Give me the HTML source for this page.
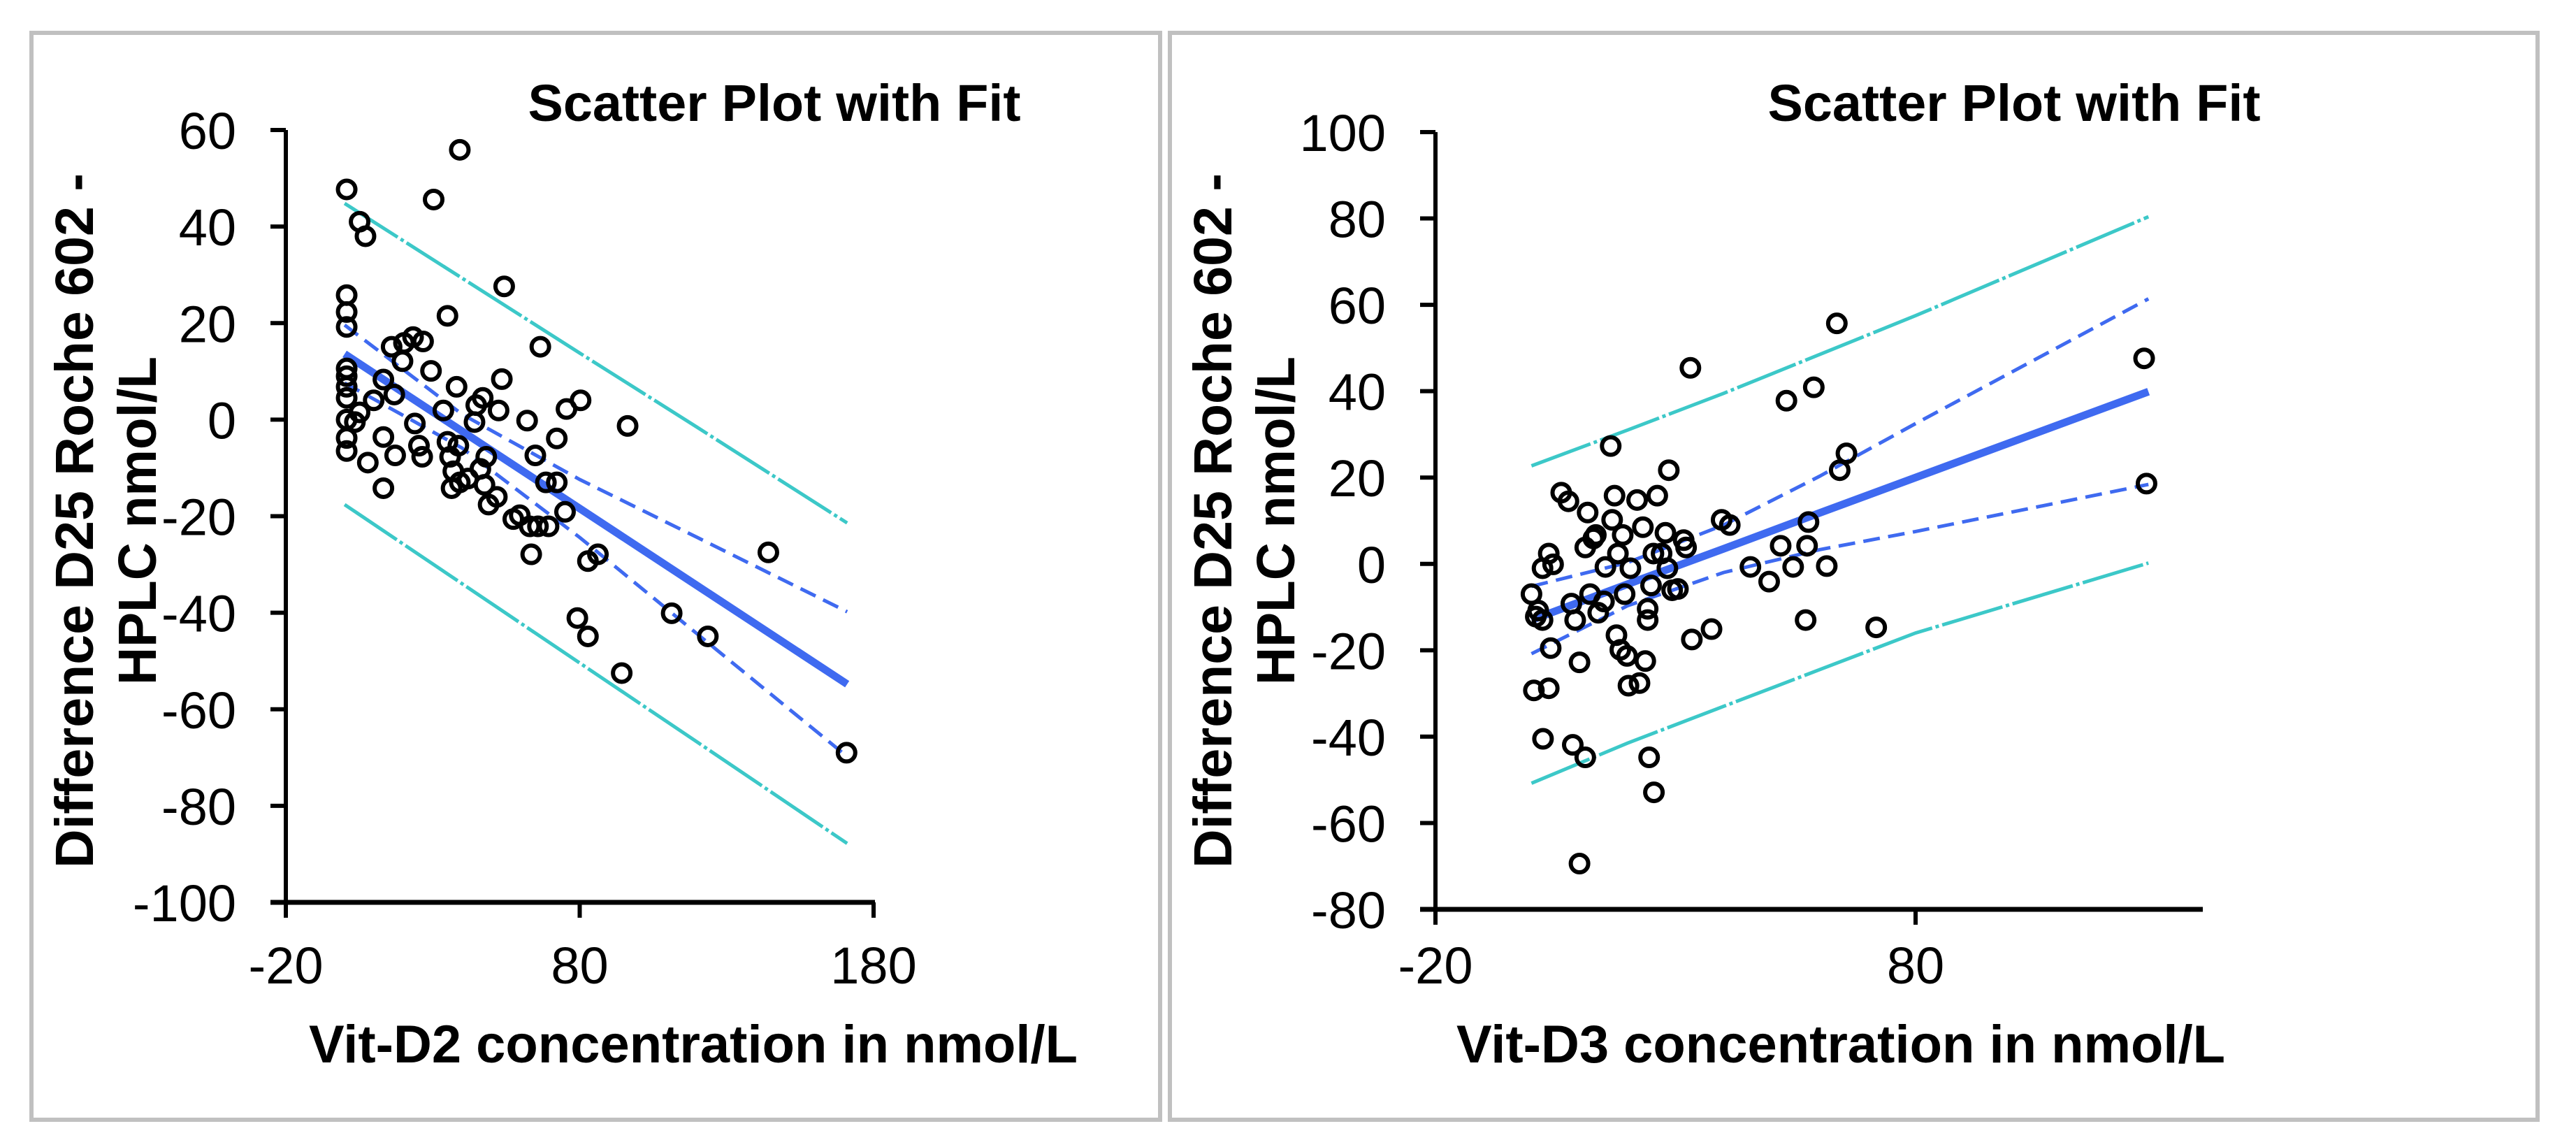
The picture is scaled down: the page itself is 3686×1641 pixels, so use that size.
<!DOCTYPE html>
<html><head><meta charset="utf-8"><style>
html,body{margin:0;padding:0;background:#fff}
svg{display:block}
text{font-family:"Liberation Sans",Arial,sans-serif;fill:#000}
</style></head><body>
<svg id="root" width="3686" height="1641" viewBox="0 0 3686 1641" xmlns="http://www.w3.org/2000/svg">
<rect x="45" y="47" width="1615" height="1555" fill="none" stroke="#c0c0c0" stroke-width="6"/>
<rect x="1674" y="47" width="1957" height="1555" fill="none" stroke="#c0c0c0" stroke-width="6"/>
<g id="left"></g>
<g id="right"></g>
</svg>
<script>
// ---- Left chart data (Vit-D2) ----
const d2X = [0.7,39.2,30.3,5.1,7.1,0.7,0.7,0.7,0.7,0.7,0.7,0.7,0.7,0.7,0.7,3.5,5.1,7.9,9.9,13.2,13.2,13.2,16,16.9,17.2,19.7,20.2,23.3,26.7,23.9,25.3,26.4,29.4,33.6,35,35,35.9,36.4,37,38.1,38.7,39.2,42,44.2,44.8,46.2,47,48.2,47.6,49,51.8,52.4,53.5,54.3,57.4,59.6,62.1,63,63.5,64.9,65.8,66.6,69.4,68.5,72.2,72.2,75.5,75,80.3,79.2,82.8,82.8,86.2,94.3,96.3,111.3,123.6,144.2,170.8];
const d2Y = [47.7,55.9,45.6,41,38,25.8,22.3,19.2,10.6,9,6.8,4.5,0,-3.8,-6.5,-0.5,1.5,-8.9,4,8.3,-3.6,-14.2,15.1,5.2,-7.4,12.1,15.9,17.1,16.2,-0.8,-5.4,-7.7,10.1,1.9,21.5,-4.6,-7.7,-14.2,-10.7,6.8,-5.4,-13,-12.2,-0.5,3,-10.2,4.5,-7.7,-13.5,-17.6,-16,1.9,8.4,27.6,-20.6,-19.8,-0.2,-22.1,-27.9,-7.4,-22.1,15.1,-22.1,-13,-13,-3.9,2.2,-19.1,4,-41.1,-44.9,-29.3,-27.9,-52.5,-1.3,-40.1,-44.9,-27.5,-69];
const d2LineX = [0,40,80,120,171];
const d2Fit = [13.6,-2.4,-18.4,-34.4,-54.8];
const d2CiUp = [19.6,1.1,-12.4,-24.4,-39.8];
const d2CiLo = [7.6,-5.9,-24.4,-44.4,-69.8];
const d2PiUp = [44.8,29.3,13.8,-1.6,-21.4];
const d2PiLo = [-17.6,-34,-50.4,-66.8,-87.8];
const d2XTicks = [-20,80,180];
const d2YTicks = [60,40,20,0,-20,-40,-60,-80,-100];

// ---- Right chart data (Vit-D3) ----
const d3X = [0,0.9,2.3,1.4,0.5,3.6,2.4,4,2.3,3.6,4.5,6.2,7.7,8.3,8.6,10,10,11.2,11.2,11.7,9.1,12.2,12.9,13.4,13.9,15.1,15.4,16.5,16.8,17.3,17.7,18,18.5,19,19.4,19.9,20.2,20.6,22,22.5,23.2,23.7,24.2,24.2,24.5,24.9,25.4,25.5,26.2,27.1,27.9,28.3,28.6,29.3,30.5,31.7,32.2,33.4,33.1,37.5,39.6,41.3,45.6,49.5,51.9,53.1,54.5,57.1,57.4,57.7,58.8,61.5,63.6,64.2,65.6,71.8,127.6,128.1];
const d3Y = [-7,-12.2,-13,-10.8,-29.3,-28.8,-40.5,-19.5,-1,2.4,-0.1,16.5,14.5,-9.2,-41.9,-69.4,-22.8,3.8,-44.8,11.9,-13,-7,5.9,6.7,-11.3,-8.7,-0.7,27.3,10.2,15.8,-16.5,2.4,-19.9,6.7,-7,-21.3,-28.2,-1,14.8,-27.6,8.5,-22.5,-10.4,-13,-44.8,-5,2.4,-52.9,15.8,2.4,7.2,-1,21.7,-6.1,-5.8,5.5,3.8,-17.5,45.4,-15.1,10.2,9,-0.7,-4.1,4.2,37.8,-0.7,-13,4.2,9.7,40.9,-0.5,55.7,21.7,25.6,-14.7,47.6,18.6];
const d3LineX = [0,20,40,60,80,128.5];
const d3Fit = [-13,-4.7,3.5,11.8,20,39.9];
const d3CiUp = [-5.2,0.3,9,20.3,32.5,61.4];
const d3CiLo = [-20.8,-9.7,-2,3.3,7.5,18.4];
const d3PiUp = [22.7,31,39.5,48.5,57.5,80.4];
const d3PiLo = [-50.8,-41.5,-33,-24.5,-16,0.2];
const d3XTicks = [-20,80];
const d3YTicks = [100,80,60,40,20,0,-20,-40,-60,-80];

const NS = "http://www.w3.org/2000/svg";
function mk(tag, attrs, parent){ const e=document.createElementNS(NS,tag); for(const k in attrs) e.setAttribute(k,attrs[k]); parent.appendChild(e); return e; }

function drawChart(g, cfg){
  const sx = v => cfg.x0 + (v - cfg.xmin) / (cfg.xmax - cfg.xmin) * (cfg.x1 - cfg.x0);
  const sy = v => cfg.y0 + (cfg.ymax - v) / (cfg.ymax - cfg.ymin) * (cfg.y1 - cfg.y0);
  const ya = mk('line',{x1:cfg.x0,y1:cfg.y0,x2:cfg.x0,y2:cfg.y1,stroke:'#000','stroke-width':6},g);
  
  
  const xa = mk('line',{x1:cfg.x0-22,y1:cfg.y1,x2:cfg.axEnd,y2:cfg.y1,stroke:'#000','stroke-width':7},g);
  
  
  cfg.yTicks.forEach(v=>{
    const y=sy(v);
    const t=mk('line',{x1:cfg.x0-22,y1:y,x2:cfg.x0,y2:y,stroke:'#000','stroke-width':6},g);
    
    
    const l=mk('text',{x:cfg.labRight,y:y+27,'text-anchor':'end','font-size':74},g);
    l.textContent=v;
    
    
  });
  cfg.xTicks.forEach(v=>{
    const x=sx(v);
    const t=mk('line',{x1:x,y1:cfg.y1,x2:x,y2:cfg.y1+22,stroke:'#000','stroke-width':6},g);
    
    
    const l=mk('text',{x:x,y:1407,'text-anchor':'middle','font-size':74},g);
    l.textContent=v;
    
    
  });
  function poly(ys, attrs, name){
    const pts = cfg.lineX.map((xv,i)=>sx(xv).toFixed(1)+','+sy(ys[i]).toFixed(1)).join(' ');
    const p = mk('polyline',Object.assign({points:pts,fill:'none'},attrs),g);
    
    
  }
  poly(cfg.piUp,{stroke:'#3cc8c8','stroke-width':5,'stroke-dasharray':'90 5 5 5'},'prediction-band-upper');
  poly(cfg.piLo,{stroke:'#3cc8c8','stroke-width':5,'stroke-dasharray':'90 5 5 5'},'prediction-band-lower');
  poly(cfg.ciUp,{stroke:'#3f6af0','stroke-width':5,'stroke-dasharray':'24 12'},'confidence-band-upper');
  poly(cfg.ciLo,{stroke:'#3f6af0','stroke-width':5,'stroke-dasharray':'24 12'},'confidence-band-lower');
  poly(cfg.fit,{stroke:'#3f6af0','stroke-width':11},'fit-line');
  cfg.px.forEach((xv,i)=>{
    const c=mk('circle',{cx:sx(xv),cy:sy(cfg.py[i]),r:12.5,fill:'none',stroke:'#000','stroke-width':6},g);
    
    
  });
  const ti=mk('text',{x:cfg.titleX,y:173,'text-anchor':'middle','font-size':74,'font-weight':'bold',textLength:705,lengthAdjust:'spacingAndGlyphs'},g);
  ti.textContent='Scatter Plot with Fit';
  
  
  const xt=mk('text',{x:cfg.xTitleX,y:1520,'text-anchor':'middle','font-size':76,'font-weight':'bold',textLength:1100,lengthAdjust:'spacingAndGlyphs'},g);
  xt.textContent=cfg.xTitle;
  
  
  const yt=mk('text',{transform:`translate(${cfg.yTitleX},745) rotate(-90)`,'text-anchor':'middle','font-size':77,'font-weight':'bold'},g);
  
  
  const s1=mk('tspan',{x:0,y:0,textLength:994,lengthAdjust:'spacingAndGlyphs'},yt); s1.textContent='Difference D25 Roche 602 -';
  const s2=mk('tspan',{x:0,y:90,textLength:470,lengthAdjust:'spacingAndGlyphs'},yt); s2.textContent='HPLC nmol/L';
}

drawChart(document.getElementById('left'),{
  x0:409,x1:1250,xmin:-20,xmax:180,y0:186,y1:1291,ymin:-100,ymax:60,axEnd:1252,labRight:338,
  xTicks:d2XTicks,yTicks:d2YTicks,lineX:d2LineX,fit:d2Fit,ciUp:d2CiUp,ciLo:d2CiLo,piUp:d2PiUp,piLo:d2PiLo,
  px:d2X,py:d2Y,titleX:1108,xTitleX:992,yTitleX:133,xTitle:'Vit-D2 concentration in nmol/L'
});
drawChart(document.getElementById('right'),{
  x0:2054,x1:2741,xmin:-20,xmax:80,y0:189,y1:1301,ymin:-80,ymax:100,axEnd:3152,labRight:1983,
  xTicks:d3XTicks,yTicks:d3YTicks,lineX:d3LineX,fit:d3Fit,ciUp:d3CiUp,ciLo:d3CiLo,piUp:d3PiUp,piLo:d3PiLo,
  px:d3X,py:d3Y,titleX:2882,xTitleX:2634,yTitleX:1762,xTitle:'Vit-D3 concentration in nmol/L'
});
</script>
</body></html>
